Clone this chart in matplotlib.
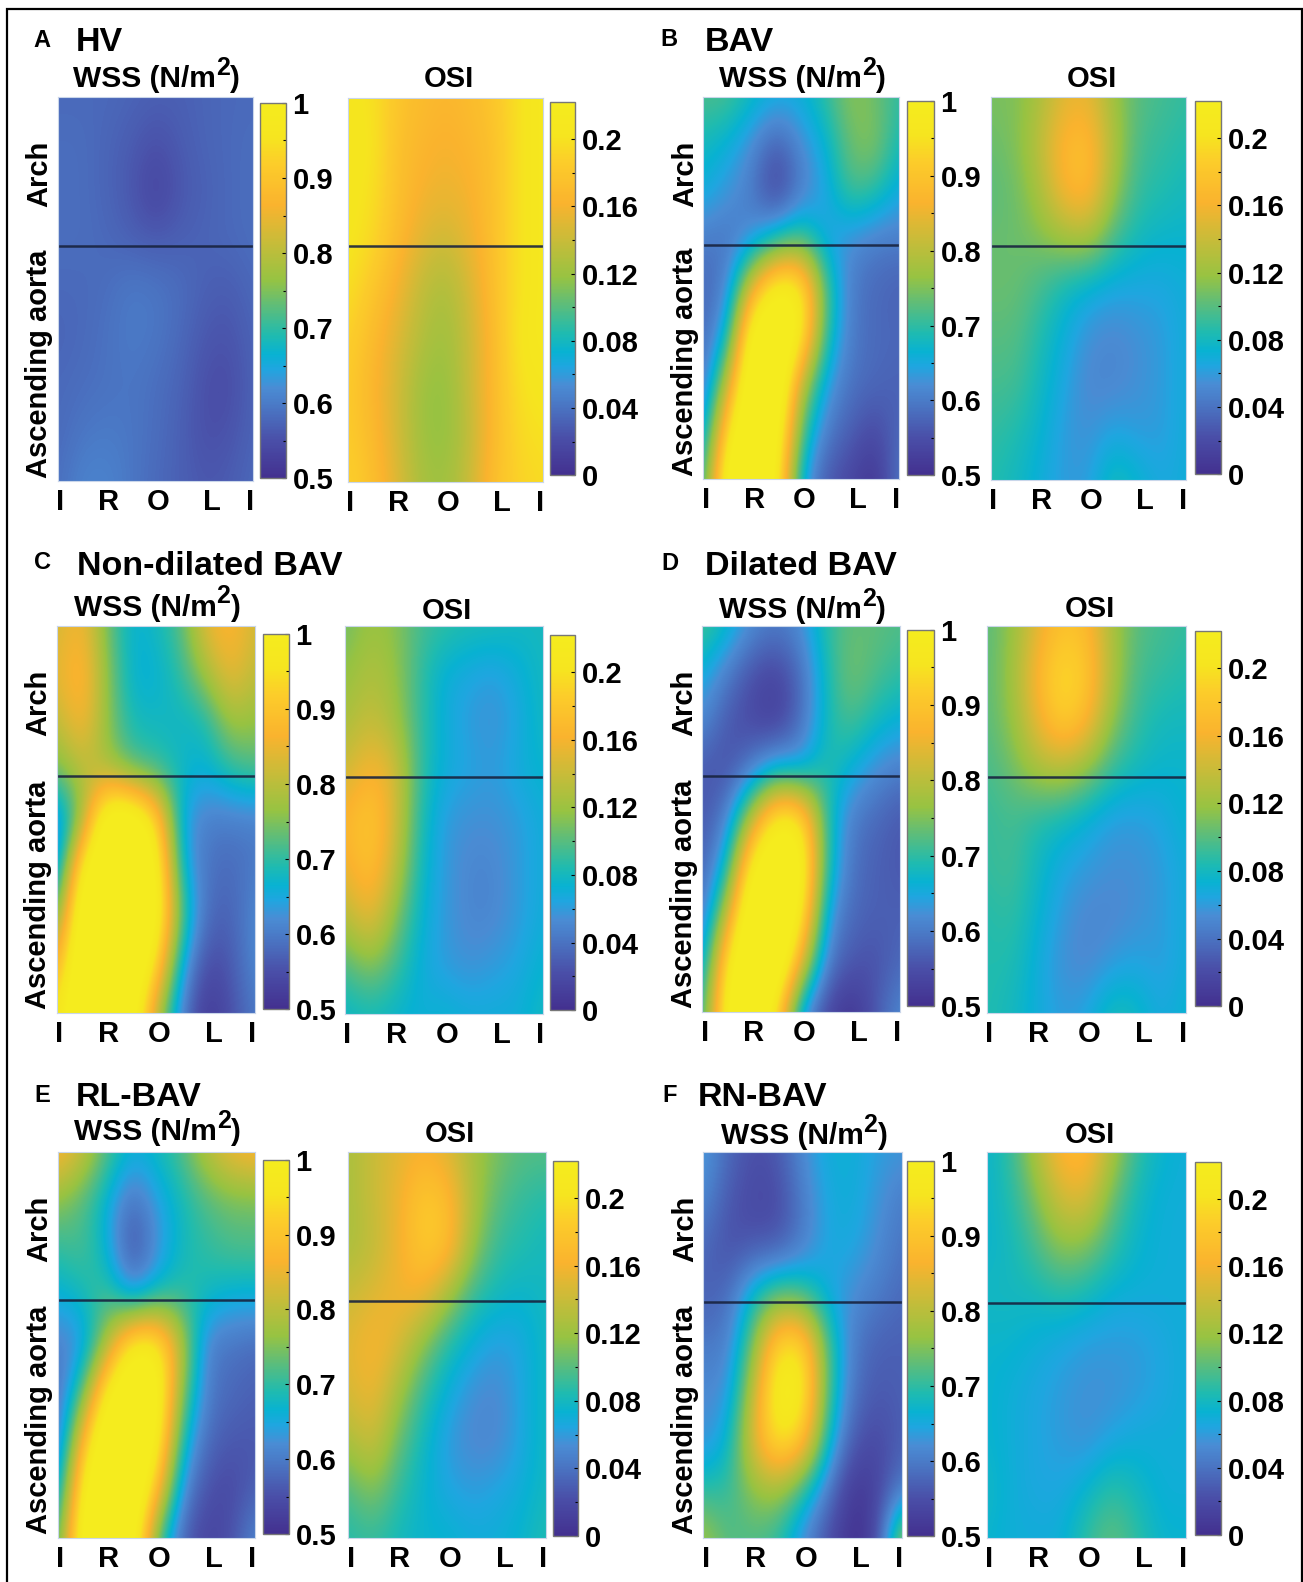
import matplotlib
matplotlib.use("Agg")
import matplotlib.pyplot as plt
from matplotlib.colors import LinearSegmentedColormap
from matplotlib.patches import Rectangle
import numpy as np

plt.rcParams['font.family'] = ['Liberation Sans', 'DejaVu Sans']
plt.rcParams['font.weight'] = 'bold'

wss_hv = [[.58,.58,.58,.575,.57,.57,.575,.58,.58],[.585,.585,.575,.565,.55,.565,.575,.58,.585],[.585,.585,.575,.56,.53,.56,.57,.58,.585],[.585,.585,.58,.57,.565,.57,.575,.58,.585],[.58,.58,.585,.60,.595,.585,.57,.565,.58],[.575,.58,.59,.60,.595,.58,.56,.555,.575],[.58,.585,.59,.595,.585,.575,.55,.545,.575],[.58,.595,.60,.595,.585,.57,.55,.555,.575],[.585,.61,.61,.595,.58,.57,.56,.565,.58]]
osi_hv = [[.205,.20,.18,.17,.165,.17,.18,.20,.21],[.205,.205,.175,.165,.16,.165,.175,.20,.21],[.205,.20,.175,.16,.155,.16,.175,.20,.21],[.205,.195,.17,.15,.14,.155,.175,.20,.21],[.20,.18,.16,.135,.125,.145,.175,.20,.21],[.19,.17,.15,.13,.12,.14,.17,.205,.21],[.185,.165,.145,.12,.115,.14,.17,.20,.205],[.185,.17,.145,.12,.115,.135,.17,.195,.20],[.19,.175,.15,.125,.12,.14,.175,.19,.195]]
wss_bav = [[.72,.72,.68,.66,.66,.70,.76,.74,.70],[.68,.66,.62,.56,.62,.66,.74,.76,.68],[.66,.63,.60,.52,.60,.64,.72,.70,.65],[.60,.59,.62,.68,.72,.64,.62,.60,.60],[.58,.60,.85,1.02,1.0,.72,.60,.58,.57],[.58,.65,1.05,1.1,1.0,.70,.60,.58,.58],[.58,.80,1.1,1.1,.80,.64,.59,.58,.57],[.62,.95,1.12,1.05,.72,.60,.57,.54,.58],[.68,1.05,1.15,1.0,.65,.56,.54,.50,.60]]
osi_bav = [[.11,.11,.125,.15,.155,.12,.10,.095,.09],[.105,.11,.135,.17,.175,.13,.095,.09,.085],[.10,.105,.125,.165,.175,.12,.09,.085,.08],[.105,.105,.11,.12,.125,.095,.08,.075,.075],[.105,.105,.095,.08,.07,.065,.065,.065,.07],[.10,.10,.085,.07,.055,.05,.055,.06,.07],[.095,.095,.08,.065,.05,.05,.055,.06,.07],[.09,.085,.075,.06,.055,.065,.06,.06,.07],[.085,.08,.07,.06,.06,.085,.075,.065,.07]]
wss_nondil = [[.82,.87,.74,.66,.68,.72,.85,.88,.82],[.84,.90,.76,.66,.66,.70,.78,.86,.80],[.80,.88,.76,.68,.68,.67,.68,.78,.76],[.74,.80,.78,.72,.70,.68,.66,.70,.72],[.60,.75,1.08,1.08,.95,.64,.60,.60,.60],[.60,1.0,1.1,1.1,1.03,.66,.59,.58,.60],[.72,1.08,1.1,1.1,1.05,.72,.58,.57,.62],[.85,1.1,1.1,1.1,.95,.65,.54,.56,.62],[.95,1.1,1.1,1.05,.80,.60,.51,.55,.60]]
osi_nondil = [[.105,.12,.115,.095,.09,.085,.085,.08,.08],[.115,.13,.12,.09,.07,.065,.06,.07,.08],[.125,.14,.125,.09,.07,.06,.055,.065,.08],[.14,.165,.15,.09,.07,.065,.06,.07,.075],[.165,.185,.15,.085,.06,.055,.055,.06,.07],[.155,.18,.14,.08,.06,.05,.05,.06,.07],[.13,.16,.115,.075,.06,.05,.05,.06,.07],[.095,.115,.095,.07,.06,.055,.06,.065,.075],[.075,.08,.075,.07,.075,.07,.07,.07,.08]]
wss_dil = [[.72,.68,.62,.60,.62,.70,.73,.73,.72],[.66,.60,.55,.53,.58,.68,.75,.72,.70],[.62,.56,.54,.52,.58,.68,.72,.68,.66],[.56,.55,.60,.66,.64,.70,.66,.62,.60],[.56,.60,.80,1.0,.98,.70,.60,.58,.56],[.57,.66,1.0,1.1,1.05,.70,.59,.57,.56],[.58,.8,1.1,1.1,1.0,.64,.58,.57,.57],[.62,.97,1.12,1.1,.85,.60,.56,.55,.58],[.68,1.02,1.12,.95,.62,.54,.50,.56,.62]]
osi_dil = [[.10,.115,.15,.175,.17,.125,.10,.095,.09],[.10,.12,.165,.2,.185,.13,.095,.09,.085],[.10,.115,.155,.19,.17,.115,.09,.08,.08],[.095,.105,.125,.13,.115,.09,.08,.075,.075],[.09,.095,.085,.08,.07,.06,.06,.065,.075],[.09,.095,.08,.065,.06,.055,.055,.06,.07],[.085,.09,.075,.06,.05,.05,.055,.06,.07],[.085,.085,.07,.055,.05,.06,.065,.06,.07],[.085,.08,.07,.06,.065,.085,.08,.065,.075]]
wss_rl = [[.88,.82,.72,.66,.68,.72,.80,.86,.88],[.76,.72,.66,.58,.64,.68,.72,.74,.74],[.70,.72,.66,.54,.62,.68,.70,.72,.72],[.66,.68,.72,.62,.68,.70,.68,.66,.66],[.60,.62,.78,1.0,1.0,.80,.60,.59,.58],[.58,.72,1.0,1.1,1.05,.75,.60,.58,.57],[.58,.88,1.1,1.1,1.02,.68,.58,.56,.56],[.62,1.0,1.12,1.1,.9,.62,.55,.54,.57],[.70,1.05,1.12,1.05,.72,.57,.53,.55,.62]]
osi_rl = [[.125,.14,.15,.16,.15,.125,.11,.10,.10],[.125,.14,.155,.185,.175,.13,.10,.09,.085],[.125,.135,.155,.185,.18,.12,.09,.085,.08],[.14,.15,.16,.16,.125,.09,.08,.075,.08],[.15,.165,.15,.115,.085,.07,.06,.065,.08],[.145,.16,.125,.09,.07,.055,.05,.065,.08],[.125,.145,.105,.08,.06,.05,.05,.065,.08],[.095,.115,.09,.075,.065,.06,.065,.07,.08],[.085,.09,.08,.075,.075,.07,.07,.075,.085]]
wss_rn = [[.64,.58,.55,.56,.62,.66,.66,.64,.63],[.62,.56,.54,.54,.60,.65,.66,.63,.60],[.58,.55,.56,.56,.60,.65,.65,.62,.59],[.57,.58,.68,.74,.72,.65,.62,.60,.58],[.60,.60,.74,.95,.96,.72,.60,.57,.57],[.62,.62,.80,1.02,1.0,.72,.59,.56,.57],[.62,.66,.84,.97,.92,.68,.56,.54,.57],[.70,.70,.76,.78,.70,.60,.51,.53,.60],[.78,.72,.72,.70,.62,.55,.50,.53,.80]]
osi_rn = [[.075,.09,.13,.17,.175,.13,.09,.075,.07],[.075,.085,.11,.145,.15,.105,.08,.07,.07],[.075,.08,.095,.115,.11,.09,.075,.07,.07],[.08,.08,.08,.085,.08,.07,.07,.07,.07],[.075,.075,.07,.065,.06,.06,.06,.065,.07],[.075,.07,.065,.06,.055,.055,.06,.065,.07],[.075,.07,.065,.06,.055,.065,.07,.07,.07],[.08,.07,.065,.065,.075,.09,.08,.07,.07],[.075,.07,.07,.07,.09,.105,.09,.075,.075]]

angle_labels = ['I', 'R', 'O', 'L', 'I']
wss_ticks = [0.5, 0.6, 0.7, 0.8, 0.9, 1]
wss_ticklabels = ['0.5', '0.6', '0.7', '0.8', '0.9', '1']
osi_ticks = [0, 0.04, 0.08, 0.12, 0.16, 0.2]
osi_ticklabels = ['0', '0.04', '0.08', '0.12', '0.16', '0.2']
region_labels = ['Arch', 'Ascending aorta']
panel_letters = ['A', 'B', 'C', 'D', 'E', 'F']
panel_titles = ['HV', 'BAV', 'Non-dilated BAV', 'Dilated BAV', 'RL-BAV', 'RN-BAV']

parula = LinearSegmentedColormap.from_list('parula_like', [
    (0.00, '#43308f'), (0.10, '#4a4fa8'), (0.20, '#4a7cc8'), (0.24, '#4a8cd4'),
    (0.29, '#1fa6e0'), (0.33, '#08b2d2'), (0.38, '#1fbbb0'), (0.46, '#5fbd78'),
    (0.53, '#97c342'), (0.64, '#cdbb38'), (0.73, '#fab32e'), (0.84, '#fccd2a'),
    (0.91, '#f6e51f'), (1.00, '#f5ec1e')])

S = 1303 / 1291
W, H = 1303, 1582
fig = plt.figure(figsize=(W / 100, H / 100), dpi=100, facecolor='white')

def box(x0, x1, y0, y1):
    x0, x1, y0, y1 = x0 * S, x1 * S, y0 * S, y1 * S
    return [x0 / W, 1 - y1 / H, (x1 - x0) / W, (y1 - y0) / H]

fig.add_artist(Rectangle((7 / W, 1 - 1590 / H), 1295 / W, 1581 / H, transform=fig.transFigure,
                         fill=False, ec='black', lw=1.6))

def ftext(x, y, s, **kw):
    fig.text(x * S / W, 1 - y * S / H, s, fontweight='bold', **kw)

def heat(data, rect, line_y, cbar_rect, vmin, vmax, ticks, labels, minor):
    x0, x1, y0, y1 = rect
    ax = fig.add_axes(box(x0, x1, y0, y1))
    z = np.array(data)
    nr, nc = z.shape
    dx, dy = 0.5 / (nc - 1), 0.5 / (nr - 1)
    im = ax.imshow(z, cmap=parula, vmin=vmin, vmax=vmax, aspect='auto', interpolation='bicubic',
                   extent=(-dx, 1 + dx, 1 + dy, -dy))
    ax.set_xlim(0, 1)
    ax.set_ylim(1, 0)
    ax.axhline((line_y - y0) / (y1 - y0), color='#18233f', lw=1.8, alpha=0.9)
    ax.set_yticks([])
    ax.set_xticks([0.012, 0.26, 0.515, 0.79, 0.985])
    ax.set_xticklabels(angle_labels, fontsize=21, fontweight='bold')
    ax.tick_params(axis='x', length=0, pad=5)
    for s in ax.spines.values():
        s.set_color('#c9d6ea')
        s.set_linewidth(0.8)
    cax = fig.add_axes(box(*cbar_rect))
    cb = fig.colorbar(im, cax=cax)
    cb.set_ticks(ticks)
    cb.set_ticklabels(labels)
    cb.set_ticks(minor, minor=True)
    cax.tick_params(axis='y', which='major', direction='in', length=3, width=0.8, labelsize=21, pad=5)
    cax.tick_params(axis='y', which='minor', direction='in', length=2, width=0.8)
    for lab in cax.get_yticklabels():
        lab.set_verticalalignment('center_baseline')
    cb.outline.set_edgecolor('#777777')
    cb.outline.set_linewidth(1)
    return ax

wss_minor = [0.55, 0.65, 0.75, 0.85, 0.95]
osi_minor = [0.02, 0.06, 0.10, 0.14, 0.18]

panels = [
    dict(letter=0, lx=42, ly=40, tx=75, ty=42, wss=wss_hv, osi=osi_hv,
         w=(57, 251, 96, 477), wl=244, wc=(258, 283, 102, 474), wt=78,
         o=(345, 538, 97, 478), ol=244, oc=(545, 570, 101, 471), ot=78),
    dict(letter=1, lx=663, ly=39, tx=698, ty=42, wss=wss_bav, osi=osi_bav,
         w=(697, 891, 96, 475), wl=243, wc=(899, 925, 100, 471), wt=78,
         o=(982, 1175, 96, 476), ol=244, oc=(1184, 1210, 100, 470), ot=78),
    dict(letter=2, lx=42, ly=557, tx=76, ty=561, wss=wss_nondil, osi=osi_nondil,
         w=(56, 253, 620, 1004), wl=769, wc=(261, 286, 628, 1000), wt=602,
         o=(342, 538, 620, 1005), ol=770, oc=(545, 570, 629, 1001), ot=605),
    dict(letter=3, lx=664, ly=558, tx=699, ty=561, wss=wss_dil, osi=osi_dil,
         w=(696, 892, 620, 1003), wl=769, wc=(899, 925, 624, 997), wt=604,
         o=(978, 1175, 620, 1004), ol=770, oc=(1184, 1210, 625, 997), ot=603),
    dict(letter=4, lx=42, ly=1085, tx=75, ty=1087, wss=wss_rl, osi=osi_rl,
         w=(57, 253, 1141, 1524), wl=1288, wc=(261, 286, 1149, 1520), wt=1122,
         o=(345, 541, 1141, 1524), ol=1289, oc=(548, 573, 1150, 1522), ot=1124),
    dict(letter=5, lx=663, ly=1085, tx=691, ty=1087, wss=wss_rn, osi=osi_rn,
         w=(697, 894, 1141, 1524), wl=1290, wc=(899, 925, 1150, 1522), wt=1126,
         o=(978, 1175, 1141, 1524), ol=1291, oc=(1184, 1210, 1151, 1521), ot=1125),
]

for p in panels:
    heat(p['wss'], p['w'], p['wl'], p['wc'], 0.5, 1.0, wss_ticks, wss_ticklabels, wss_minor)
    heat(p['osi'], p['o'], p['ol'], p['oc'], 0.0, 0.222, osi_ticks, osi_ticklabels, osi_minor)
    ftext(p['lx'], p['ly'], panel_letters[p['letter']], ha='center', va='center', fontsize=17)
    ftext(p['tx'], p['ty'], panel_titles[p['letter']], ha='left', va='center', fontsize=24.5)
    x0, x1, y0, y1 = p['w']
    cx = (x0 + x1) / 2 + 2
    ftext(cx + 58, p['wt'], 'WSS (N/m', ha='right', va='center', fontsize=21.5)
    ftext(cx + 58, p['wt'] - 11, '2', ha='left', va='center', fontsize=18)
    ftext(cx + 71, p['wt'], ')', ha='left', va='center', fontsize=21.5)
    ox0, ox1 = p['o'][:2]
    ftext((ox0 + ox1) / 2 + 3, p['ot'], 'OSI', ha='center', va='center', fontsize=21)
    lab_x = x0 - 18
    ftext(lab_x, y0 + 0.2 * (y1 - y0), region_labels[0], rotation=90, ha='center', va='center', fontsize=21)
    ftext(lab_x, y0 + 0.693 * (y1 - y0), region_labels[1], rotation=90, ha='center', va='center', fontsize=21)

fig.savefig('out.png', dpi=100, facecolor='white')
